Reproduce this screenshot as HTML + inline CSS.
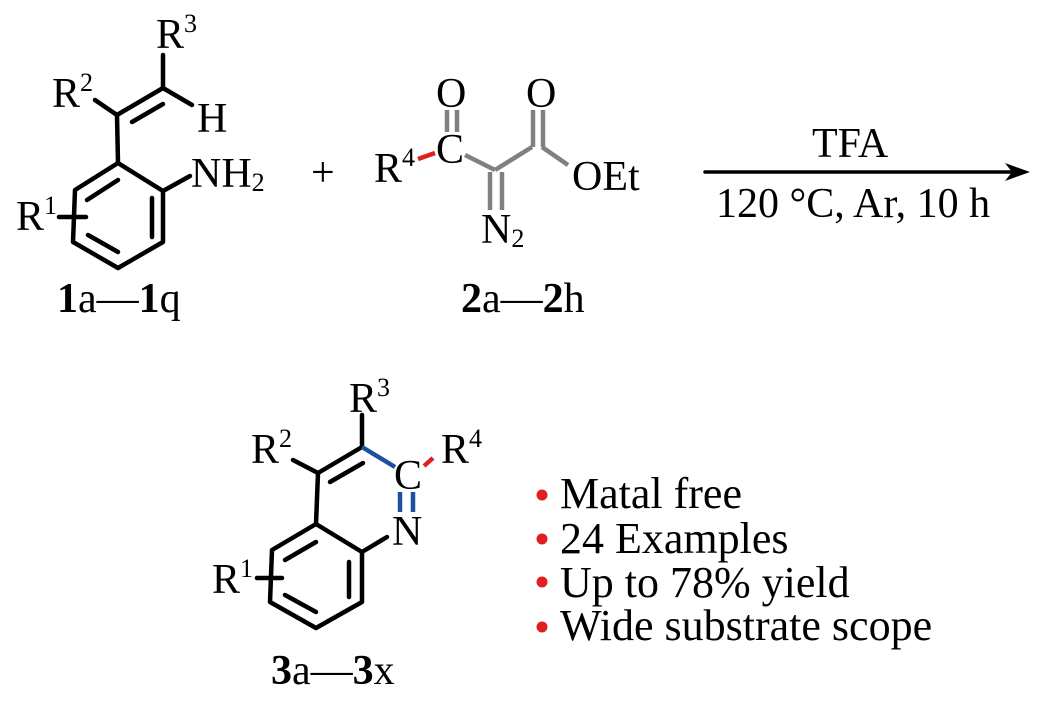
<!DOCTYPE html>
<html><head><meta charset="utf-8"><style>
html,body{margin:0;padding:0;background:#fff;}
svg{display:block;}
text{font-family:"Liberation Serif",serif;fill:#000;}
</style></head><body>
<svg width="1052" height="707" viewBox="0 0 1052 707" xmlns="http://www.w3.org/2000/svg">
<g stroke="#000" stroke-width="4.5" fill="none" stroke-linecap="round" stroke-linejoin="round">
<!-- molecule 1 ring -->
<polyline points="118,163 163,191 163,242 118,268 73,242 75,190 118,163"/>
<line x1="87" y1="200" x2="118" y2="180"/>
<line x1="152" y1="198" x2="152" y2="237"/>
<line x1="88" y1="235" x2="118" y2="252"/>
<line x1="59" y1="217" x2="86" y2="217"/>
<line x1="163" y1="191" x2="190" y2="176"/>
<line x1="118" y1="163" x2="117" y2="115"/>
<line x1="117" y1="115" x2="95" y2="100"/>
<line x1="117" y1="115" x2="163" y2="88"/>
<line x1="132" y1="122" x2="163" y2="104"/>
<line x1="163" y1="88" x2="163" y2="55"/>
<line x1="163" y1="88" x2="192" y2="105"/>
<!-- molecule 3 -->
<polyline points="316,524 362,552 362,602 316,628 270,602 272,550 316,524"/>
<line x1="285" y1="560" x2="316" y2="542"/>
<line x1="349" y1="562" x2="349" y2="597"/>
<line x1="285" y1="595" x2="316" y2="612"/>
<line x1="257" y1="578" x2="282" y2="578"/>
<line x1="362" y1="552" x2="387" y2="537"/>
<line x1="316" y1="524" x2="318" y2="473"/>
<line x1="318" y1="473" x2="293" y2="460"/>
<line x1="318" y1="473" x2="362" y2="447"/>
<line x1="330" y1="482" x2="363" y2="463"/>
<line x1="362" y1="447" x2="362" y2="415"/>
<!-- arrow -->
<line x1="705" y1="172" x2="1012" y2="172" stroke-width="3.5"/>
</g>
<polygon points="1030,172 1005,163 1012,172 1005,181" fill="#000"/>
<g stroke-width="4.5" fill="none" stroke-linecap="butt">
<!-- molecule 2 grey -->
<g stroke="#808080">
<line x1="447" y1="110" x2="447" y2="132"/>
<line x1="457" y1="110" x2="457" y2="132"/>
<line x1="465" y1="155" x2="495" y2="170"/>
<line x1="495" y1="170" x2="532" y2="147"/>
<line x1="533" y1="110" x2="533" y2="147"/>
<line x1="543" y1="110" x2="543" y2="147"/>
<line x1="542" y1="147" x2="568" y2="165"/>
<line x1="490" y1="172" x2="490" y2="210"/>
<line x1="502" y1="172" x2="502" y2="210"/>
</g>
<line x1="418" y1="159" x2="435" y2="153" stroke="#e02020"/>
<g stroke="#1f4fa0">
<line x1="362" y1="447" x2="395" y2="467"/>
<line x1="400" y1="492" x2="400" y2="512"/>
<line x1="413" y1="492" x2="413" y2="512"/>
</g>
<line x1="424" y1="466" x2="433" y2="458" stroke="#e02020"/>
</g>
<!-- labels molecule 1 -->
<g font-size="42">
<text x="16" y="230">R<tspan font-size="26" dy="-16">1</tspan></text>
<text x="52" y="107">R<tspan font-size="26" dy="-16">2</tspan></text>
<text x="156" y="48">R<tspan font-size="26" dy="-16">3</tspan></text>
<text x="197" y="132">H</text>
<text x="191" y="187">NH<tspan font-size="26" dy="4">2</tspan></text>
<text x="311" y="186">+</text>
<text x="57" y="312"><tspan font-weight="bold">1</tspan>a—<tspan font-weight="bold">1</tspan>q</text>
<!-- molecule 2 -->
<text x="436" y="107">O</text>
<text x="526" y="107">O</text>
<text x="436" y="163">C</text>
<text x="374" y="182">R<tspan font-size="26" dy="-16">4</tspan></text>
<text x="572" y="190">OEt</text>
<text x="481" y="243">N<tspan font-size="26" dy="4">2</tspan></text>
<text x="461" y="312"><tspan font-weight="bold">2</tspan>a—<tspan font-weight="bold">2</tspan>h</text>
<!-- arrow text -->
<text x="812" y="157">TFA</text>
<text x="716" y="217">120 °C, Ar, 10 h</text>
<!-- molecule 3 -->
<text x="349" y="412">R<tspan font-size="26" dy="-16">3</tspan></text>
<text x="251" y="463">R<tspan font-size="26" dy="-16">2</tspan></text>
<text x="441" y="463">R<tspan font-size="26" dy="-16">4</tspan></text>
<text x="394" y="489">C</text>
<text x="392" y="545">N</text>
<text x="212" y="593">R<tspan font-size="26" dy="-16">1</tspan></text>
<text x="271" y="684"><tspan font-weight="bold">3</tspan>a—<tspan font-weight="bold">3</tspan>x</text>
</g>
<!-- bullets -->
<g fill="#e02020">
<circle cx="542" cy="495" r="5.5"/>
<circle cx="542" cy="539" r="5.5"/>
<circle cx="542" cy="582" r="5.5"/>
<circle cx="542" cy="627" r="5.5"/>
</g>
<g font-size="44">
<text x="560" y="508">Matal free</text>
<text x="560" y="553">24 Examples</text>
<text x="560" y="597">Up to 78% yield</text>
<text x="560" y="640">Wide substrate scope</text>
</g>
</svg>
</body></html>
